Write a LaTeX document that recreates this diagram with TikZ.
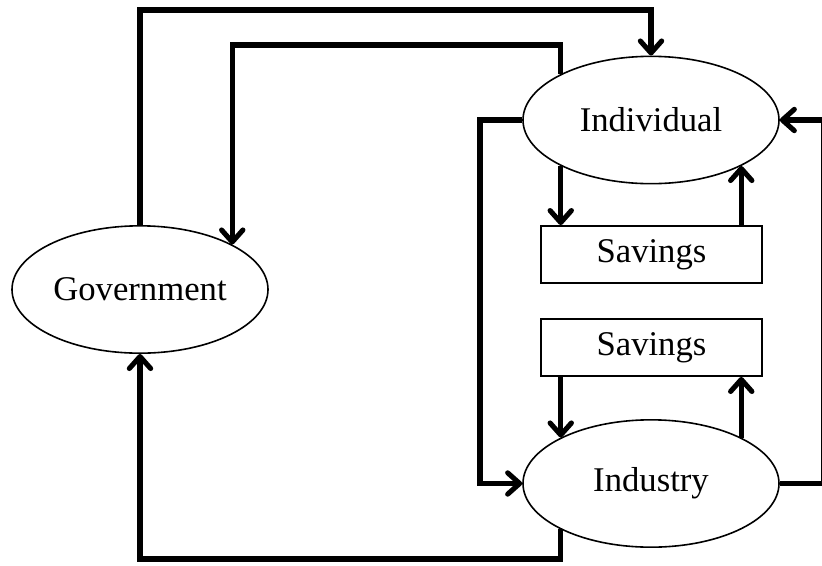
\documentclass[tikz,border=0pt]{standalone}
\usepackage{fontspec}
\setmainfont{Liberation Serif}
\usetikzlibrary{positioning,calc,arrows.meta,shapes.geometric}

\begin{document}
\begin{tikzpicture}[x=0.75pt,y=-0.75pt,
    sector/.style={draw, ellipse, line width=1.2pt, inner sep=0pt,
      minimum width=192pt, minimum height=95.5pt, font=\fontsize{26}{30}\selectfont},
    store/.style={draw, rectangle, line width=1.4pt, inner sep=0pt,
      minimum width=165.75pt, minimum height=42.75pt, font=\fontsize{26}{30}\selectfont},
    flow/.style={line width=3.8pt, -{Straight Barb[length=9pt,width=16pt,line cap=round,line join=round]}}]
  \useasboundingbox (0,0) rectangle (822,565);
  % the three sectors and the two savings pools
  \node[sector] (gov) at (140,289.5) {Government};
  \node[sector] (ind) at (651,120) {Individual};
  \node[sector] (indu) at (651,483.5) {Industry};
  \node[store] (sav1) at (651.5,254.5) {Savings};
  \node[store] (sav2) at (651.5,347.5) {Savings};
  % rails for the outer loops
  \coordinate (toprail) at (0,10);
  \coordinate (midrail) at (0,45);
  \coordinate (leftrail) at (480,0);
  \coordinate (rightrail) at (823.5,0);
  \coordinate (botrail) at (0,559);
  % government <-> individual / industry
  \draw[flow] (gov.north) -- (gov.north |- toprail) -| (ind.north);
  \draw[flow] (ind.153) -- (ind.153 |- midrail) -| (gov.26);
  \draw[flow] (indu.207) -- (indu.207 |- botrail) -| (gov.south);
  % individual <-> industry
  \draw[flow] (ind.west) -- (ind.west -| leftrail) |- (indu.west);
  \draw[flow] (indu.east) -- (indu.east -| rightrail) |- (ind.east);
  % savings
  \draw[flow] (ind.207) -- (ind.207 |- sav1.north);
  \draw[flow] (sav1.north -| ind.333) -- (ind.333);
  \draw[flow] (sav2.south -| indu.153) -- (indu.153);
  \draw[flow] (indu.27) -- (indu.27 |- sav2.south);
\end{tikzpicture}
\end{document}
